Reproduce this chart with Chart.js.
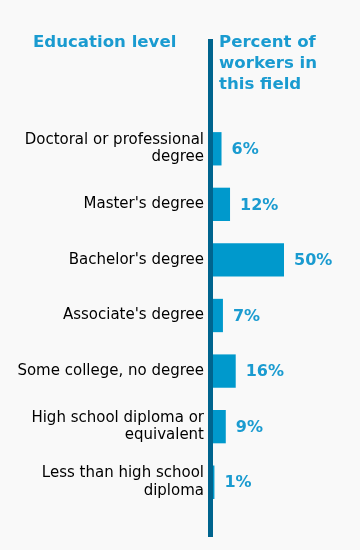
<!DOCTYPE html>
<html>
<head>
<meta charset="utf-8">
<script src="https://cdn.jsdelivr.net/npm/chart.js@4"></script>
<style>
  html, body { margin: 0; padding: 0; background: #f9f9f9; }
  #wrap { position: relative; width: 360px; height: 550px; }
  .head { position: absolute; font-family: "DejaVu Sans", Verdana, sans-serif; font-weight: bold; font-size: 16.6px; color: #1a9bd0; line-height: 21px; }
  #h1 { left: 33px; top: 31px; }
  #h2 { left: 219px; top: 31px; }
</style>
</head>
<body>
<div id="wrap">
  <canvas id="myChart" width="360" height="550"></canvas>
  <div class="head" id="h1">Education level</div>
  <div class="head" id="h2">Percent of<br>workers in<br>this field</div>
</div>
<script>
const categories = [
  ['Doctoral or professional', 'degree'],
  "Master's degree",
  "Bachelor's degree",
  "Associate's degree",
  'Some college, no degree',
  ['High school diploma or', 'equivalent'],
  ['Less than high school', 'diploma']
];
const percents = [6, 12, 50, 7, 16, 9, 1];

// dark vertical line drawn at the zero of the value axis
const axisLine = {
  id: 'axisLine',
  afterDatasetsDraw(chart) {
    const ctx = chart.ctx;
    const x0 = chart.scales.x.getPixelForValue(0) - 2.5;
    ctx.save();
    ctx.strokeStyle = '#00648e';
    ctx.lineWidth = 5;
    ctx.beginPath();
    ctx.moveTo(x0, 39);
    ctx.lineTo(x0, 537);
    ctx.stroke();
    ctx.restore();
  }
};

const valueLabels = {
  id: 'valueLabels',
  afterDatasetsDraw(chart) {
    const ctx = chart.ctx;
    const meta = chart.getDatasetMeta(0);
    ctx.save();
    ctx.font = 'bold 16px "DejaVu Sans", Verdana, sans-serif';
    ctx.fillStyle = '#1a9bd0';
    ctx.textAlign = 'left';
    ctx.textBaseline = 'middle';
    meta.data.forEach((bar, i) => {
      ctx.fillText(percents[i] + '%', bar.x + 10, bar.y + 1);
    });
    ctx.restore();
  }
};

const ctx = document.getElementById('myChart').getContext('2d');
const chart = new Chart(ctx, {
  type: 'bar',
  data: {
    labels: categories,
    datasets: [{
      data: percents,
      backgroundColor: '#0099cc',
      borderWidth: 0,
      barPercentage: 0.6,
      categoryPercentage: 1
    }]
  },
  options: {
    indexAxis: 'y',
    responsive: false,
    animation: false,
    layout: { padding: { top: 121, bottom: 40, left: 0, right: 5 } },
    plugins: { legend: { display: false }, tooltip: { enabled: false } },
    scales: {
      x: { display: false, min: 0, max: 100 },
      y: {
        afterFit(scale) { scale.width = 213; },
        grid: { display: false, drawTicks: false },
        border: { display: false },
        ticks: {
          padding: 9,
          color: '#000000',
          font: { family: '"DejaVu Sans", Verdana, sans-serif', size: 15, lineHeight: 1.15 }
        }
      }
    }
  },
  plugins: [axisLine, valueLabels]
});
</script>
</body>
</html>
